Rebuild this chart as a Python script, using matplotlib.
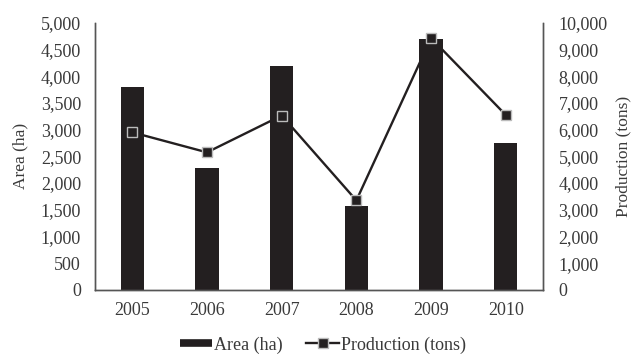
import matplotlib
matplotlib.use("Agg")
import matplotlib.pyplot as plt
from matplotlib.lines import Line2D
from matplotlib.ticker import FuncFormatter, MultipleLocator

years = ["2005", "2006", "2007", "2008", "2009", "2010"]
area_ha = [3790, 2280, 4200, 1570, 4700, 2750]
production_tons = [5900, 5150, 6530, 3350, 9430, 6550]

plt.rcParams['font.family'] = ['Liberation Serif', 'DejaVu Serif']
txt = '#3a3a3a'
dark = '#231f20'
fs = 13

fig = plt.figure(figsize=(6.33, 3.57), dpi=100)
ax = fig.add_axes([0.150, 0.188, 0.708, 0.748])
x = list(range(len(years)))
ax.bar(x, area_ha, width=0.31, color=dark, zorder=2)
ax.set_ylim(0, 5000)
ax.set_xlim(-0.5, len(years) - 0.5)
ax.set_xticks(x)
ax.set_xticklabels(years)
ax.yaxis.set_major_locator(MultipleLocator(500))
ax.yaxis.set_major_formatter(FuncFormatter(lambda v, p: f"{int(v):,}"))
ax.set_ylabel('Area (ha)', fontsize=12.5, color=txt, labelpad=9)

ax2 = ax.twinx()
ax2.plot(x, production_tons, color=dark, lw=1.7, marker='s',
         markersize=7.5, markerfacecolor=dark, markeredgecolor='#bbbbbb',
         markeredgewidth=1.0, zorder=3)
ax2.set_ylim(0, 10000)
ax2.yaxis.set_major_locator(MultipleLocator(1000))
ax2.yaxis.set_major_formatter(FuncFormatter(lambda v, p: f"{int(v):,}"))
ax2.set_ylabel('Production (tons)', fontsize=12.5, color=txt, labelpad=6)

for a in (ax, ax2):
    a.spines['top'].set_visible(False)
    for s in ('left', 'right', 'bottom'):
        a.spines[s].set_color('#555555')
        a.spines[s].set_linewidth(1.0)
    a.tick_params(axis='both', length=0, labelsize=fs, colors=txt)
ax.tick_params(axis='y', pad=10)
ax2.tick_params(axis='y', pad=11)
ax.tick_params(axis='x', pad=9)

area_handle = Line2D([], [], color=dark, lw=5.5, solid_capstyle='butt')
prod_handle = Line2D([], [], color=dark, lw=1.7, marker='s', markersize=7.5,
                     markerfacecolor=dark, markeredgecolor='#bbbbbb',
                     markeredgewidth=1.0)
fig.legend([area_handle, prod_handle], ['Area (ha)', 'Production (tons)'],
           loc='center', bbox_to_anchor=(0.51, 0.034), ncol=2, frameon=False,
           fontsize=fs, handlelength=1.8, handletextpad=0.1, columnspacing=1.3,
           labelcolor=txt)

fig.savefig('out.png', dpi=100)
